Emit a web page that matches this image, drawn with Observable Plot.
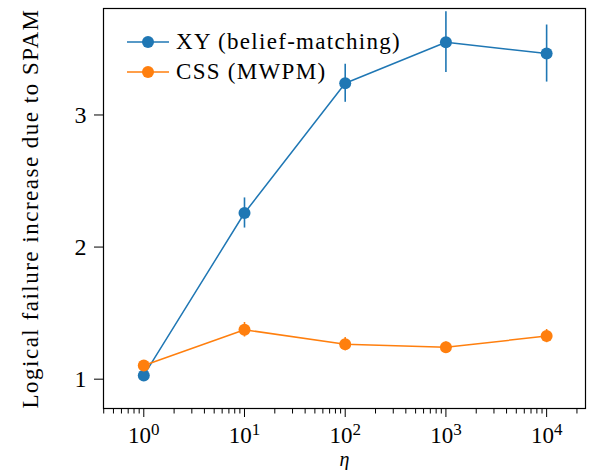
<!DOCTYPE html>
<html><head><meta charset="utf-8">
<script src="https://cdn.jsdelivr.net/npm/d3@7"></script>
<script src="https://cdn.jsdelivr.net/npm/@observablehq/plot@0.6"></script>
<style>
body{margin:0;background:#fff;}
#wrap{position:relative;width:592px;height:470px;font-family:"Liberation Serif",serif;}
#legend{position:absolute;left:125px;top:27px;font-size:23px;letter-spacing:1.3px;color:#000;}
#legend .row{display:flex;align-items:center;height:30px;}
#legend svg{margin-right:7px;}
</style></head><body><div id="wrap"><div id="legend"></div></div>
<script>
const eta = [1, 10, 100, 1000, 10000];
const xyMean = [1.028, 2.258, 3.24, 3.551, 3.465];
const xyErr = [0.02, 0.114, 0.144, 0.23, 0.216];
const cssMean = [1.104, 1.374, 1.265, 1.242, 1.326];
const cssErr = [0.03, 0.055, 0.05, 0.04, 0.05];
const seriesNames = ["XY (belief-matching)", "CSS (MWPM)"];
const colors = ["#1f77b4", "#ff7f0e"];
const majorTicks = [1, 10, 100, 1000, 10000];
const minorTicks = [0.4,0.5,0.6,0.7,0.8,0.9, 2,3,4,5,6,7,8,9, 20,30,40,50,60,70,80,90,
  200,300,400,500,600,700,800,900, 2000,3000,4000,5000,6000,7000,8000,9000, 20000];
const yTicks = [1, 2, 3];
const xLabel = "η";
const yLabel = "Logical failure increase due to SPAM";

const xy = eta.map((e, i) => ({eta: e, m: xyMean[i], lo: xyMean[i] - xyErr[i], hi: xyMean[i] + xyErr[i]}));
const css = eta.map((e, i) => ({eta: e, m: cssMean[i], lo: cssMean[i] - cssErr[i], hi: cssMean[i] + cssErr[i]}));

const plot = Plot.plot({
  width: 592, height: 470,
  marginLeft: 103, marginRight: 7, marginTop: 8, marginBottom: 62,
  style: {fontFamily: "Liberation Serif, serif", fontSize: "23px", color: "#000", background: "#fff"},
  x: {type: "log", domain: [Math.pow(10, -0.4), Math.pow(10, 4.386)]},
  y: {domain: [0.778, 3.806]},
  marks: [
    Plot.axisX({ticks: minorTicks, tickSize: 5.5, tickFormat: () => "", label: null, strokeWidth: 1}),
    Plot.axisX({ticks: majorTicks, tickSize: 9, tickPadding: 9, label: null, fontSize: 23, tickFormat: d => "10^" + Math.round(Math.log10(d)), strokeWidth: 1}),
    Plot.axisY({ticks: yTicks, tickSize: 9, tickPadding: 8, label: null, fontSize: 24, tickFormat: d => String(d)}),
    Plot.frame({stroke: "#000", strokeWidth: 1.2}),
    Plot.ruleX(xy, {x: "eta", y1: "lo", y2: "hi", stroke: colors[0], strokeWidth: 1.6}),
    Plot.line(xy, {x: "eta", y: "m", stroke: colors[0], strokeWidth: 1.5}),
    Plot.dot(xy, {x: "eta", y: "m", r: 6, fill: colors[0]}),
    Plot.ruleX(css, {x: "eta", y1: "lo", y2: "hi", stroke: colors[1], strokeWidth: 1.6}),
    Plot.line(css, {x: "eta", y: "m", stroke: colors[1], strokeWidth: 1.5}),
    Plot.dot(css, {x: "eta", y: "m", r: 6, fill: colors[1]}),
    Plot.text([xLabel], {frameAnchor: "bottom", dy: 51, fontStyle: "italic", fontSize: 20, lineAnchor: "middle", textAnchor: "middle"}),
    Plot.text([yLabel], {frameAnchor: "left", dx: -73, rotate: -90, fontSize: 23, lineAnchor: "middle", textAnchor: "middle"})
  ]
});
document.getElementById("wrap").appendChild(plot);

// y label letter spacing to mimic the wide spacing of the original typeface
d3.select(plot).selectAll("text").filter(function() { return this.textContent === yLabel; })
  .style("letter-spacing", "1.5px");

// render exponents as superscripts
d3.select(plot).selectAll('g[aria-label="x-axis tick label"] text').each(function() {
  const t = this.textContent;
  if (!t.includes("^")) return;
  const [base, exp] = t.split("^");
  const sel = d3.select(this);
  sel.text("");
  sel.append("tspan").text(base);
  sel.append("tspan").attr("dy", "-0.45em").attr("font-size", "17px").text(exp);
});

// legend
const leg = d3.select("#legend");
seriesNames.forEach((name, i) => {
  const row = leg.append("div").attr("class", "row");
  const s = row.append("svg").attr("width", 44).attr("height", 20);
  s.append("line").attr("x1", 2).attr("x2", 44).attr("y1", 10).attr("y2", 10).attr("stroke", colors[i]).attr("stroke-width", 1.5);
  s.append("circle").attr("cx", 23).attr("cy", 10).attr("r", 6).attr("fill", colors[i]);
  row.append("span").text(name);
});
</script></body></html>
